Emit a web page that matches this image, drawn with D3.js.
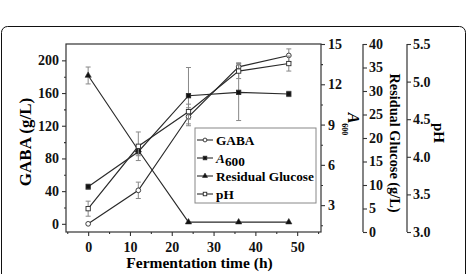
<!DOCTYPE html>
<html>
<head>
<meta charset="utf-8">
<script src="https://cdn.jsdelivr.net/npm/d3@7"></script>
<style>
  body { margin: 0; background: #fff; }
  svg text { font-family: "Liberation Serif", "Times New Roman", serif; font-weight: bold; }
</style>
</head>
<body>
<div id="chart"></div>
<script>
// fermentation time points (h)
const times = [0, 12, 24, 36, 48];

// series values
const gaba = [0, 41, 131, 192, 206];
const gabaErr = [0, 10, 11, 5, 8];
const a600 = [4.37, 6.98, 11.15, 11.4, 11.28];
const a600Err = [0.2, 0.3, 2.1, 2.1, 0.2];
const glucose = [33.3, 17.4, 2.1, 2.1, 2.1];
const glucoseErr = [1.8, 0, 0, 0, 0];
const ph = [3.31, 4.14, 4.6, 5.14, 5.24];
const phErr = [0.1, 0.19, 0.1, 0.1, 0.1];

// tick labels
const xTicks = [0, 10, 20, 30, 40, 50];
const gabaTicks = [0, 40, 80, 120, 160, 200];
const a600Ticks = [3, 6, 9, 12, 15];
const glucoseTicks = [0, 5, 10, 15, 20, 25, 30, 35, 40];
const phTicks = [3.0, 3.5, 4.0, 4.5, 5.0, 5.5];

const legendNames = ["GABA", "A600", "Residual Glucose", "pH"];

const width = 467, height = 274;
const plotLeft = 66, plotRight = 321, plotTop = 44, plotBottom = 232;

const svg = d3.select("#chart").append("svg")
    .attr("width", width)
    .attr("height", height);

// outer rounded frame
svg.append("rect")
    .attr("x", 1.5).attr("y", 26.5)
    .attr("width", 464).attr("height", 280)
    .attr("rx", 6)
    .attr("fill", "none")
    .attr("stroke", "#111")
    .attr("stroke-width", 1);

const x = d3.scaleLinear().domain([-5.3, 55.7]).range([plotLeft, plotRight]);
const yG = d3.scaleLinear().domain([-10, 220]).range([plotBottom, plotTop]);
const yA = d3.scaleLinear().domain([1, 15]).range([plotBottom, plotTop]);
const yR = d3.scaleLinear().domain([0, 40]).range([plotBottom, plotTop]);
const yP = d3.scaleLinear().domain([3, 5.5]).range([plotBottom, plotTop]);

const axisColor = "#333";

// plot box
svg.append("rect")
    .attr("x", plotLeft).attr("y", plotTop)
    .attr("width", plotRight - plotLeft).attr("height", plotBottom - plotTop)
    .attr("fill", "none").attr("stroke", axisColor).attr("stroke-width", 1.2);

function styleAxis(g, size) {
    g.select(".domain").remove();
    g.selectAll(".tick line").attr("stroke", axisColor).attr("stroke-width", 1.1);
    g.selectAll("text").attr("fill", "#111").style("font-size", size + "px");
}

// bottom axis
svg.append("g")
    .attr("transform", `translate(0,${plotBottom})`)
    .call(d3.axisBottom(x).tickValues(xTicks).tickSize(4).tickPadding(6))
    .call(g => styleAxis(g, 14));
svg.append("g")
    .attr("transform", `translate(0,${plotBottom})`)
    .call(d3.axisBottom(x).tickValues([-5, 5, 15, 25, 35, 45, 55]).tickSize(2).tickFormat(""))
    .call(g => styleAxis(g, 14));

// left axis (GABA)
svg.append("g")
    .attr("transform", `translate(${plotLeft},0)`)
    .call(d3.axisLeft(yG).tickValues(gabaTicks).tickSize(4).tickPadding(3))
    .call(g => styleAxis(g, 14));
svg.append("g")
    .attr("transform", `translate(${plotLeft},0)`)
    .call(d3.axisLeft(yG).tickValues([20, 60, 100, 140, 180]).tickSize(2).tickFormat(""))
    .call(g => styleAxis(g, 14));

// A600 axis on the plot's right edge
svg.append("g")
    .attr("transform", `translate(${plotRight},0)`)
    .call(d3.axisRight(yA).tickValues(a600Ticks).tickSize(4).tickPadding(3))
    .call(g => styleAxis(g, 14));
svg.append("g")
    .attr("transform", `translate(${plotRight},0)`)
    .call(d3.axisRight(yA).tickValues([1.5, 4.5, 7.5, 10.5, 13.5]).tickSize(2).tickFormat(""))
    .call(g => styleAxis(g, 14));

// residual glucose axis
const xR = 363;
svg.append("line").attr("x1", xR).attr("x2", xR).attr("y1", plotTop).attr("y2", plotBottom)
    .attr("stroke", axisColor).attr("stroke-width", 1.2);
svg.append("g")
    .attr("transform", `translate(${xR},0)`)
    .call(d3.axisRight(yR).tickValues(glucoseTicks).tickSize(4).tickPadding(2))
    .call(g => styleAxis(g, 14));

// pH axis
const xP = 407;
svg.append("line").attr("x1", xP).attr("x2", xP).attr("y1", plotTop).attr("y2", plotBottom)
    .attr("stroke", axisColor).attr("stroke-width", 1.2);
svg.append("g")
    .attr("transform", `translate(${xP},0)`)
    .call(d3.axisRight(yP).tickValues(phTicks).tickSize(4).tickPadding(2).tickFormat(d3.format(".1f")))
    .call(g => styleAxis(g, 14));

// axis titles
svg.append("text")
    .attr("transform", `translate(31,${(plotTop + plotBottom) / 2 + 4}) rotate(-90)`)
    .attr("text-anchor", "middle")
    .style("font-size", "17px")
    .text("GABA (g/L)");

svg.append("text")
    .attr("x", (plotLeft + plotRight) / 2 + 6).attr("y", 268)
    .attr("text-anchor", "middle")
    .style("font-size", "15.5px")
    .text("Fermentation time (h)");

const a600Title = svg.append("text")
    .attr("transform", `translate(348,124) rotate(90)`)
    .attr("text-anchor", "middle")
    .style("font-size", "16px");
a600Title.append("tspan").style("font-style", "italic").text("A");
a600Title.append("tspan").attr("dy", 6).style("font-size", "8px").text("600");

svg.append("text")
    .attr("transform", `translate(390,143) rotate(90)`)
    .attr("text-anchor", "middle")
    .style("font-size", "14.3px")
    .text("Residual Glucose (g/L)");

svg.append("text")
    .attr("transform", `translate(434,133) rotate(90)`)
    .attr("text-anchor", "middle")
    .style("font-size", "15px")
    .text("pH");

// series definitions
const series = [
    { values: gaba, err: gabaErr, y: yG, marker: "circle", fill: "#fff" },
    { values: a600, err: a600Err, y: yA, marker: "square", fill: "#111" },
    { values: glucose, err: glucoseErr, y: yR, marker: "triangle", fill: "#111" },
    { values: ph, err: phErr, y: yP, marker: "square", fill: "#fff" }
];

const lineColor = "#2a2a2a";

function drawMarker(g, type, fill, cx, cy, s) {
    if (type === "circle") {
        g.append("circle").attr("cx", cx).attr("cy", cy).attr("r", s * 0.55)
            .attr("fill", fill).attr("stroke", lineColor).attr("stroke-width", 0.9);
    } else if (type === "square") {
        g.append("rect").attr("x", cx - s / 2).attr("y", cy - s / 2)
            .attr("width", s).attr("height", s)
            .attr("fill", fill).attr("stroke", lineColor).attr("stroke-width", 0.9);
    } else {
        g.append("path")
            .attr("d", d3.symbol(d3.symbolTriangle, s * s * 0.9)())
            .attr("transform", `translate(${cx},${cy})`)
            .attr("fill", fill).attr("stroke", lineColor).attr("stroke-width", 0.6);
    }
}

series.forEach(function (s) {
    const pts = times.map((t, i) => [t, s.values[i], s.err[i]]);
    const g = svg.append("g");

    // error bars
    pts.filter(d => d[2] > 0).forEach(function (d) {
        const cx = x(d[0]);
        const y1 = s.y(d[1] - d[2]), y2 = s.y(d[1] + d[2]);
        g.append("line").attr("x1", cx).attr("x2", cx).attr("y1", y1).attr("y2", y2)
            .attr("stroke", "#888").attr("stroke-width", 1);
        [y1, y2].forEach(yy => g.append("line")
            .attr("x1", cx - 2.5).attr("x2", cx + 2.5).attr("y1", yy).attr("y2", yy)
            .attr("stroke", "#888").attr("stroke-width", 1));
    });

    g.append("path")
        .datum(pts)
        .attr("fill", "none")
        .attr("stroke", lineColor)
        .attr("stroke-width", 1.15)
        .attr("d", d3.line().x(d => x(d[0])).y(d => s.y(d[1])));

    pts.forEach(d => drawMarker(g, s.marker, s.fill, x(d[0]), s.y(d[1]), 4.3));
});

// legend
const legend = svg.append("g").attr("transform", "translate(195,128)");
legend.append("rect")
    .attr("width", 121).attr("height", 75)
    .attr("fill", "#fff").attr("stroke", "#888").attr("stroke-width", 1);

legendNames.forEach(function (name, i) {
    const ly = 12 + i * 18;
    const s = series[i];
    legend.append("line").attr("x1", 2).attr("x2", 18).attr("y1", ly).attr("y2", ly)
        .attr("stroke", lineColor).attr("stroke-width", 1.1);
    drawMarker(legend, s.marker, s.fill, 10, ly, 3.5);
    const t = legend.append("text")
        .attr("x", 21).attr("y", ly + 4.5)
        .style("font-size", "13.3px");
    if (name === "A600") {
        t.append("tspan").style("font-style", "italic").text("A");
        t.append("tspan").attr("dy", 3).text("600");
    } else {
        t.text(name);
    }
});
</script>
</body>
</html>
